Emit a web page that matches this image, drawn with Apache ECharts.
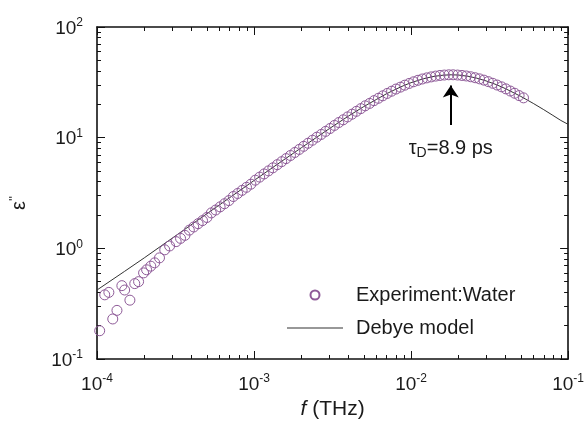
<!DOCTYPE html>
<html><head><meta charset="utf-8">
<script src="https://cdn.jsdelivr.net/npm/echarts@6/dist/echarts.min.js"></script>
<style>html,body{margin:0;padding:0;background:#fff}#c{width:587px;height:425px}</style>
</head><body><div id="c"></div>
<script>
// Experimental data (frequency in THz, epsilon'')
const expFreq = [
 1.04e-4,1.12e-4,1.19e-4,1.26e-4,1.34e-4,1.44e-4,1.50e-4,1.62e-4,1.74e-4,1.84e-4,
 1.98e-4,2.07e-4,2.20e-4,2.33e-4,2.50e-4,2.70e-4,2.90e-4,
 3.192e-4,3.404e-4,3.631e-4,3.873e-4,4.130e-4,4.406e-4,4.699e-4,5.012e-4,5.346e-4,
 5.702e-4,6.081e-4,6.486e-4,6.918e-4,7.379e-4,7.870e-4,8.395e-4,8.954e-4,9.550e-4,
 1.019e-3,1.086e-3,1.159e-3,1.236e-3,1.318e-3,1.406e-3,1.500e-3,1.600e-3,1.706e-3,
 1.820e-3,1.941e-3,2.070e-3,2.208e-3,2.355e-3,2.512e-3,2.679e-3,2.858e-3,3.048e-3,
 3.251e-3,3.467e-3,3.698e-3,3.945e-3,4.207e-3,4.487e-3,4.786e-3,5.105e-3,5.445e-3,
 5.808e-3,6.194e-3,6.607e-3,7.047e-3,7.516e-3,8.017e-3,8.551e-3,9.120e-3,9.727e-3,
 1.038e-2,1.107e-2,1.180e-2,1.259e-2,1.343e-2,1.432e-2,1.528e-2,1.629e-2,1.738e-2,
 1.854e-2,1.977e-2,2.109e-2,2.249e-2,2.399e-2,2.559e-2,2.729e-2,2.911e-2,3.105e-2,
 3.311e-2,3.532e-2,3.767e-2,4.018e-2,4.285e-2,4.571e-2,4.875e-2,5.200e-2
];
const expEps = [
 0.18,0.38,0.40,0.23,0.275,0.46,0.42,0.34,0.48,0.50,
 0.60,0.64,0.69,0.74,0.82,0.97,1.05,
 1.15,1.23,1.31,1.46,1.56,1.67,1.78,1.90,2.09,
 2.22,2.37,2.53,2.70,2.94,3.13,3.34,3.56,3.80,
 4.13,4.40,4.70,5.01,5.34,5.70,6.07,6.47,6.90,
 7.35,7.83,8.35,8.90,9.48,10.1,10.7,11.4,12.1,
 12.9,13.7,14.5,15.4,16.3,17.3,18.3,19.4,20.4,
 21.6,22.7,23.9,25.1,26.3,27.5,28.6,29.8,30.9,
 32.0,33.0,33.9,34.7,35.4,36.0,36.5,36.8,37.0,
 37.0,36.8,36.5,36.1,35.5,34.8,34.0,33.1,32.1,
 31.0,29.9,28.8,27.6,26.4,25.2,24.0,22.9
];
// Debye model curve
const modelFreq = [1e-4,1.5e-4,2e-4,3e-4,5e-4,7e-4,1e-3,1.5e-3,2e-3,3e-3,4e-3,5e-3,6e-3,7e-3,8e-3,9e-3,1e-2,1.2e-2,1.4e-2,1.6e-2,1.8e-2,2e-2,2.3e-2,2.6e-2,3e-2,3.5e-2,4e-2,5e-2,6e-2,7e-2,8e-2,9e-2,1e-1];
const modelEps = [0.42,0.62,0.82,1.23,2.05,2.87,4.1,6.12,8.1,12.0,15.7,19.1,22.1,25.0,27.4,29.6,31.4,34.1,35.8,36.7,37.0,36.8,35.9,34.6,32.6,30.1,27.7,23.6,20.4,17.9,15.9,14.3,13.2];
// Axis ticks
const xMajor = [1e-4,1e-3,1e-2,1e-1];
const xMinor = [2e-4,3e-4,4e-4,5e-4,6e-4,7e-4,8e-4,9e-4,2e-3,3e-3,4e-3,5e-3,6e-3,7e-3,8e-3,9e-3,2e-2,3e-2,4e-2,5e-2,6e-2,7e-2,8e-2,9e-2];
const yMajor = [1e-1,1e0,1e1,1e2];
const yMinor = [0.2,0.3,0.4,0.5,0.6,0.7,0.8,0.9,2,3,4,5,6,7,8,9,20,30,40,50,60,70,80,90];
// Annotation (data coordinates)
const peakFreq = 0.0179;
const arrowFromEps = 13.0, arrowToEps = 29.6, labelEps = 7.7;

const FONT = '"Liberation Sans", Arial, Helvetica, sans-serif';
const TXT = '#1a1a1a';
const supRich = {
  b: {fontSize: 19, fontFamily: FONT, color: TXT, verticalAlign: 'bottom', lineHeight: 22},
  e: {fontSize: 12, fontFamily: FONT, color: TXT, verticalAlign: 'bottom', lineHeight: 22, padding: [0,0,9,0]}
};
const powLabel = v => '{b|10}{e|' + Math.round(Math.log10(v)) + '}';

function mkAxis(dim, pos, minor, labels, extra) {
  const ax = {
    type: 'log', logBase: 10, gridIndex: 0, position: pos,
    min: dim === 'x' ? 1e-4 : 1e-1, max: dim === 'x' ? 1e-1 : 1e2,
    axisLine: {show: !minor, onZero: false, lineStyle: {color: '#111', width: 1.6}},
    axisTick: {show: true, inside: true, length: minor ? 4 : 8,
      customValues: minor ? (dim === 'x' ? xMinor : yMinor) : (dim === 'x' ? xMajor : yMajor),
      lineStyle: {color: '#111', width: 1}},
    axisLabel: {show: labels},
    splitLine: {show: false}, minorTick: {show: false}, minorSplitLine: {show: false}
  };
  if (labels) {
    ax.axisLabel = {show: true, customValues: dim === 'x' ? xMajor : yMajor,
      formatter: powLabel, rich: supRich, margin: dim === 'x' ? 13 : 14};
  }
  return Object.assign(ax, extra || {});
}

const xAxes = [
  mkAxis('x', 'bottom', false, true, {
    name: '{i|f} (THz)', nameLocation: 'middle', nameGap: 40,
    nameTextStyle: {fontSize: 21, fontFamily: FONT, color: TXT,
      rich: {i: {fontSize: 21, fontFamily: FONT, color: TXT, fontStyle: 'italic'}}}
  }),
  mkAxis('x', 'bottom', true, false),
  mkAxis('x', 'top', false, false),
  mkAxis('x', 'top', true, false)
];
const yAxes = [
  mkAxis('y', 'left', false, true, {
    name: '{a|ε}{s|\'\'}', nameLocation: 'middle', nameGap: 68, nameRotate: 90,
    nameTextStyle: {fontSize: 20, fontFamily: FONT, color: TXT, padding: [0,20,0,0],
      rich: {a: {fontSize: 20, fontFamily: FONT, color: TXT, verticalAlign: 'bottom', lineHeight: 22},
             s: {fontSize: 13, fontFamily: FONT, color: TXT, verticalAlign: 'bottom', lineHeight: 22, padding: [0,0,8,0]}}}
  }),
  mkAxis('y', 'left', true, false),
  mkAxis('y', 'right', false, false),
  mkAxis('y', 'right', true, false)
];

const option = {
  backgroundColor: '#ffffff',
  animation: false,
  grid: {left: 95, right: 18, top: 27, bottom: 63, containLabel: false},
  xAxis: xAxes,
  yAxis: yAxes,
  legend: {
    orient: 'vertical', left: 287, top: 285, padding: 0,
    itemWidth: 56, itemHeight: 9, itemGap: 13,
    textStyle: {fontSize: 20, fontFamily: FONT, color: TXT, padding: [0,0,0,8]},
    data: [
      {name: 'Experiment:Water'},
      {name: 'Debye model', icon: 'path://M0,0 L56,0 L56,1 L0,1 Z'}
    ]
  },
  series: [
    {
      name: 'Experiment:Water', type: 'scatter', xAxisIndex: 0, yAxisIndex: 0,
      symbol: 'circle', symbolSize: 10,
      itemStyle: {color: 'rgba(0,0,0,0)', borderColor: '#8e5a98', borderWidth: 1, opacity: 1},
      data: expFreq.map((f, i) => [f, expEps[i]]),
      z: 3
    },
    {
      name: 'Debye model', type: 'line', xAxisIndex: 0, yAxisIndex: 0,
      symbol: 'none', smooth: false,
      lineStyle: {color: '#333', width: 1},
      itemStyle: {color: '#333'},
      data: modelFreq.map((f, i) => [f, modelEps[i]]),
      z: 2,
      markLine: {
        silent: true, symbol: ['none', 'arrow'], symbolSize: 12,
        label: {show: false},
        lineStyle: {color: '#000', width: 2, type: 'solid'},
        data: [[{coord: [peakFreq, arrowFromEps]}, {coord: [peakFreq, arrowToEps]}]]
      },
      markPoint: {
        silent: true, symbol: 'circle', symbolSize: 0,
        data: [{coord: [peakFreq, labelEps]}],
        label: {show: true, position: 'inside',
          formatter: '{t|τ}{s|D}{t|=8.9 ps}',
          rich: {
            t: {fontSize: 20, fontFamily: FONT, color: TXT, verticalAlign: 'top', lineHeight: 24},
            s: {fontSize: 14, fontFamily: FONT, color: TXT, verticalAlign: 'top', lineHeight: 24, padding: [8,0,0,0]}
          }}
      }
    }
  ]
};
const chart = echarts.init(document.getElementById('c'), null, {renderer: 'canvas'});
chart.setOption(option);
</script></body></html>
